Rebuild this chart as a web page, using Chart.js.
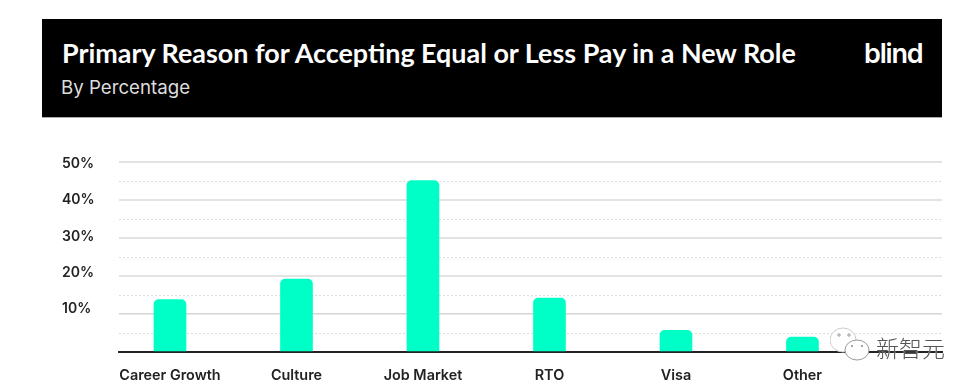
<!DOCTYPE html>
<html>
<head>
<meta charset="utf-8">
<script src="https://cdn.jsdelivr.net/npm/chart.js@4"></script>
<style>
html,body{margin:0;padding:0;background:#fff;width:979px;height:388px;overflow:hidden}
#header{position:absolute;left:42px;top:19px;width:900px;height:98px;background:#000;border-bottom:1px solid #aaa;box-sizing:content-box}
#title{position:absolute;left:20px;top:17px;color:#fff;font:700 26.9px Lato,sans-serif;white-space:nowrap}
#sub{position:absolute;left:19px;top:57px;color:#ddd;font:400 18.7px Inter,sans-serif;white-space:nowrap}
#logo{position:absolute;left:822px;top:18px;color:#fff;font:600 27px Inter,sans-serif;letter-spacing:-1.2px;white-space:nowrap}
canvas{position:absolute;left:0;top:0}
#wm{position:absolute;left:830px;top:326px;width:120px;height:36px}
#wmt{position:absolute;left:876px;top:330px;color:#555;font:300 23px "Noto Sans CJK SC",sans-serif;white-space:nowrap;text-shadow:0 0 1px #fff}
</style>
</head>
<body>
<div id="header">
  <div id="title">Primary Reason for Accepting Equal or Less Pay in a New Role</div>
  <div id="sub">By Percentage</div>
  <div id="logo">blind</div>
</div>
<div style="position:absolute;left:0;top:0;width:979px;height:388px"><canvas id="c" width="979" height="388"></canvas></div>
<svg id="wm" viewBox="0 0 120 36">
  <ellipse cx="13" cy="14" rx="13" ry="12" fill="#fff" stroke="#ccc" stroke-width="1"/>
  <ellipse cx="27" cy="24" rx="12" ry="10" fill="#fff" stroke="#999" stroke-width="1"/>
  <circle cx="9" cy="9" r="1.2" fill="none" stroke="#999"/><circle cx="19" cy="9" r="1.2" fill="none" stroke="#999"/>
  <circle cx="22" cy="20" r="1" fill="#888"/><circle cx="32" cy="20" r="1" fill="#888"/>
</svg>
<div id="wmt">新智元</div>
<script>
const categories = ["Career Growth","Culture","Job Market","RTO","Visa","Other"];
const values = [13.8,19.2,45.1,14.2,5.7,3.9];
const yTickLabels = [10,20,30,40,50];

new Chart(document.getElementById('c'),{
  type:'bar',
  data:{datasets:[{
    data:categories.map((c,i)=>({x:i,y:values[i]})),
    backgroundColor:'#00FFC6',
    barThickness:32,
    borderRadius:{topLeft:5,topRight:5,bottomLeft:0,bottomRight:0},
    borderSkipped:false,
    xAxisID:'x',yAxisID:'y'
  }]},
  options:{
    responsive:false,animation:false,
    layout:{padding:{left:62,right:37,top:162,bottom:0}},
    plugins:{legend:{display:false},tooltip:{enabled:false},title:{display:false}},
    scales:{
      x:{
        type:'linear',min:-0.403,max:6.103,offset:false,
        afterBuildTicks(s){s.ticks=categories.map((c,i)=>({value:i}));},
        afterFit(s){s.height=36;},
        grid:{display:false},
        border:{color:'#222',width:2},
        ticks:{
          callback:v=>categories[v],autoSkip:false,maxRotation:0,padding:7,
          color:'#222',font:{family:'Inter',size:14.4,weight:'600'}
        }
      },
      y:{
        position:'left',min:0,max:50,
        afterFit(s){s.width=0;},
        border:{display:false,dash:c=>(c.tick&&c.tick.value%10===0)?[]:[2,2]},
        grid:{
          drawTicks:false,
          color:c=>c.tick.value===0?'rgba(0,0,0,0)':(c.tick.value%10===0?(c.tick.value===10?'#d4d4d4':'#e3e3e3'):'#dcdcdc'),
          lineWidth:c=>c.tick.value%10===0?(c.tick.value===10?1.5:2):1
        },
        ticks:{display:false,stepSize:5}
      },
      yLabels:{
        position:'left',min:-1.87,max:50.53,
        afterBuildTicks(s){s.ticks=yTickLabels.map(v=>({value:v}));},
        afterFit(s){s.width=57;},
        grid:{display:false,drawTicks:false},
        border:{display:false},
        ticks:{
          callback:v=>v+'%',crossAlign:'far',padding:0,autoSkip:false,
          color:'#222',font:{family:'Inter',size:14,weight:'600'}
        }
      }
    }
  }
});
</script>
</body>
</html>
